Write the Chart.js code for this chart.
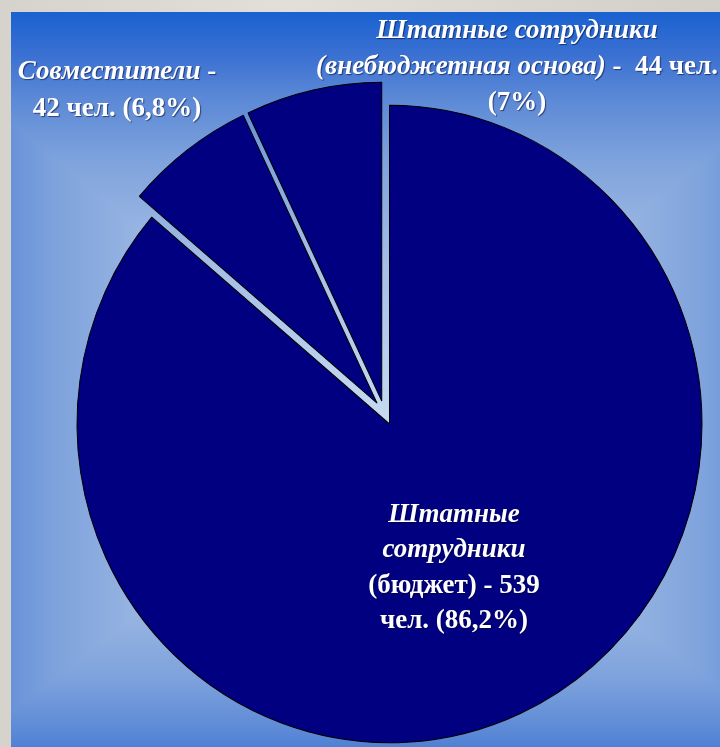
<!DOCTYPE html>
<html lang="ru">
<head>
<meta charset="utf-8">
<title>Структура кадров</title>
<script src="https://cdn.jsdelivr.net/npm/chart.js@4.4.1/dist/chart.umd.min.js"></script>
<style>
    html, body { margin: 0; padding: 0; }
    body {
        width: 720px; height: 747px; overflow: hidden; position: relative;
        background: linear-gradient(90deg, #d6d3cc, #e2dfd9 40%, #d2cfc8);
    }
    #backdrop { position: absolute; left: 11px; top: 12px; }
    #wrap { position: absolute; left: 0; top: 0; width: 720px; height: 747px; }
</style>
</head>
<body>
<canvas id="backdrop" width="709" height="735"></canvas>
<div id="wrap"><canvas id="pieChart"></canvas></div>
<script>
// данные диаграммы
const categories = ['Штатные сотрудники (бюджет)', 'Совместители', 'Штатные сотрудники (внебюджетная основа)'];
const headcounts = [539, 42, 44];
const shares = ['86,2%', '6,8%', '7%'];

// подписи секторов: строки из кусочков [текст, курсив]
const labelLines = [
    [[['Штатные', true]], [['сотрудники', true]], [['(бюджет) - ' + headcounts[0], false]], [['чел. (' + shares[0] + ')', false]]],
    [[['Совместители', true], [' -', false]], [[headcounts[1] + ' чел. (' + shares[1] + ')', false]]],
    [[['Штатные сотрудники', true]], [['(внебюджетная основа)', true], [' -  ' + headcounts[2] + ' чел.', false]], [['(' + shares[2] + ')', false]]]
];

// фон слайда - прямоугольный градиент от центра
function paintBackdrop() {
    const c = document.getElementById('backdrop');
    const g = c.getContext('2d');
    const w = c.width, h = c.height;
    const img = g.createImageData(w, h);
    const cx = 369, cy = 418;
    const stops = [
        [0, [200, 220, 242]], [0.4, [164, 190, 230]], [0.65, [126, 162, 220]],
        [0.8, [90, 136, 214]], [0.9, [58, 112, 210]], [1, [26, 98, 208]]
    ];
    for (let y = 0; y < h; y++) {
        const ty = y < cy ? (cy - y) / cy : (y - cy) / 380;
        for (let x = 0; x < w; x++) {
            let t = Math.min(1, Math.max(Math.abs(x - cx) / 500, ty));
            let k = 1;
            while (k < stops.length - 1 && stops[k][0] < t) k++;
            const a = stops[k - 1], b = stops[k];
            const f = (t - a[0]) / (b[0] - a[0]);
            const i = (y * w + x) * 4;
            for (let j = 0; j < 3; j++) img.data[i + j] = a[1][j] + (b[1][j] - a[1][j]) * f;
            img.data[i + 3] = 255;
        }
    }
    g.putImageData(img, 0, 0);
}
paintBackdrop();

// вынос малых секторов: каждый вдоль своей середины + общий сдвиг пары
const explodePlugin = {
    id: 'explode',
    afterDatasetsUpdate(chart) {
        const arcs = chart.getDatasetMeta(0).data;
        const groupAngle = arcs[1].endAngle;
        [1, 2].forEach(i => {
            const arc = arcs[i];
            const mid = (arc.startAngle + arc.endAngle) / 2;
            arc.x += Math.cos(mid) * 12 + Math.cos(groupAngle) * 12;
            arc.y += Math.sin(mid) * 12 + Math.sin(groupAngle) * 12;
        });
    },
    // на слайде круг чуть вытянут по вертикали
    beforeDatasetsDraw(chart) {
        const arc = chart.getDatasetMeta(0).data[0];
        const ctx = chart.ctx;
        ctx.save();
        ctx.translate(arc.x, arc.y);
        ctx.scale(1, 1.02);
        ctx.translate(-arc.x, -arc.y);
    },
    afterDatasetsDraw(chart) {
        chart.ctx.restore();
    }
};

// подписи белым полужирным Times
const labelPlugin = {
    id: 'sliceLabels',
    afterDraw(chart) {
        const ctx = chart.ctx;
        const spots = [{ x: 454, y: 522, lh: 35.3 }, { x: 117, y: 79, lh: 37 }, { x: 517, y: 38, lh: 36 }];
        const fontOf = it => (it ? 'italic ' : '') + 'bold 27px "Liberation Serif", "Times New Roman", serif';
        ctx.save();
        ctx.textBaseline = 'alphabetic';
        ctx.fillStyle = '#ffffff';
        ctx.shadowColor = 'rgba(0, 0, 40, 0.55)';
        ctx.shadowOffsetX = 1;
        ctx.shadowOffsetY = 1;
        ctx.shadowBlur = 1;
        labelLines.forEach((lines, s) => {
            const p = spots[s];
            lines.forEach((parts, n) => {
                let total = 0;
                parts.forEach(([t, it]) => { ctx.font = fontOf(it); total += ctx.measureText(t).width; });
                let x = p.x - total / 2;
                parts.forEach(([t, it]) => {
                    ctx.font = fontOf(it);
                    ctx.fillText(t, x, p.y + n * p.lh);
                    x += ctx.measureText(t).width;
                });
            });
        });
        ctx.restore();
    }
};

new Chart(document.getElementById('pieChart'), {
    type: 'pie',
    data: {
        labels: categories,
        datasets: [{
            data: headcounts,
            backgroundColor: '#000080',
            borderColor: '#000000',
            borderWidth: 1
        }]
    },
    options: {
        responsive: true,
        maintainAspectRatio: false,
        animation: false,
        events: [],
        radius: 312.5,
        layout: { padding: { left: 59, right: 0, top: 101, bottom: 0 } },
        plugins: {
            legend: { display: false },
            tooltip: { enabled: false }
        }
    },
    plugins: [explodePlugin, labelPlugin]
});
</script>
</body>
</html>
